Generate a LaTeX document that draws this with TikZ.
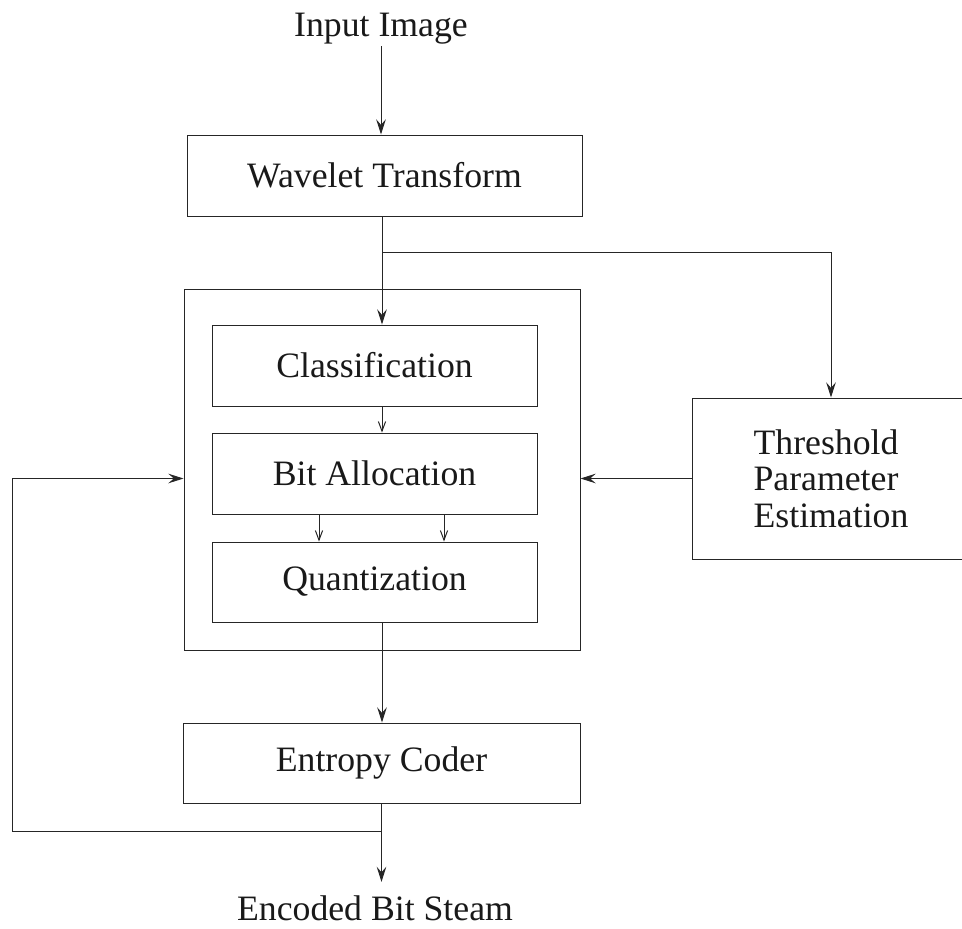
\documentclass[tikz,border=0pt]{standalone}
\usepackage{fontspec}
\setmainfont{Liberation Serif}
\usetikzlibrary{arrows.meta,calc}
\begin{document}
\begin{tikzpicture}[x=0.025cm,y=-0.025cm,
  line width=0.7pt, draw=black!85,
  every node/.style={font=\fontsize{25.4pt}{25.8pt}\selectfont, text=black!90},
  box/.style={draw, rectangle, inner sep=0pt},
  txt/.style={inner sep=0pt},
  arr/.style={-{Stealth[length=0.38cm,width=0.24cm,inset=0.14cm]}},
  sarr/.style={-{Straight Barb[length=0.24cm,width=0.18cm]}}]
\useasboundingbox (0,0) rectangle (962,929);
% nodes
\node[txt, anchor=base, inner sep=1.5pt] (in) at (381,36) {Input Image};
\node[box, minimum width=395*0.025cm, minimum height=81*0.025cm] (wav) at (384.5,175.5) {Wavelet Transform};
\node[box, minimum width=396*0.025cm, minimum height=361*0.025cm] (outer) at (382,469.5) {};
\node[box, minimum width=325*0.025cm, minimum height=81*0.025cm] (cls) at (374.5,365.5) {Classification};
\node[box, minimum width=325*0.025cm, minimum height=81*0.025cm] (bit) at (374.5,473.5) {Bit Allocation};
\node[box, minimum width=325*0.025cm, minimum height=80*0.025cm] (qua) at (374.5,582) {Quantization};
\node[box, minimum width=397*0.025cm, minimum height=80*0.025cm] (ent) at (381.5,763) {Entropy Coder};
\node[box, minimum width=278*0.025cm, minimum height=161*0.025cm, align=left] (thr) at (831,478.5) {Threshold\\Parameter\\Estimation};
\node[txt, anchor=base, inner ysep=0.32cm] (out) at (375,920) {Encoded Bit Steam};
\coordinate (br) at (382,252);
\coordinate (fb) at (381.5,831);
\coordinate (fbl) at (12,831);
% connectors
\draw[arr] (in.south) -- (in.south |- wav.north);
\draw[arr] (wav.south -| outer.north) -- (cls.north -| outer.north);
\draw[arr] (br) -| (thr.north);
\draw[sarr] (cls.south -| outer.north) -- (bit.north -| outer.north);
\draw[sarr] ($(bit.south)+(-55.5,0)$) -- ($(qua.north)+(-55.5,0)$);
\draw[sarr] ($(bit.south)+(69.5,0)$) -- ($(qua.north)+(69.5,0)$);
\draw[arr] (qua.south -| outer.south) -- (ent.north -| outer.south);
\draw[arr] (ent.south) -- (ent.south |- out.north);
\draw[arr] (fb) -- (fbl) |- (outer.west |- thr.west);
\draw[arr] (thr.west) -- (outer.east |- thr.west);
\end{tikzpicture}
\end{document}
